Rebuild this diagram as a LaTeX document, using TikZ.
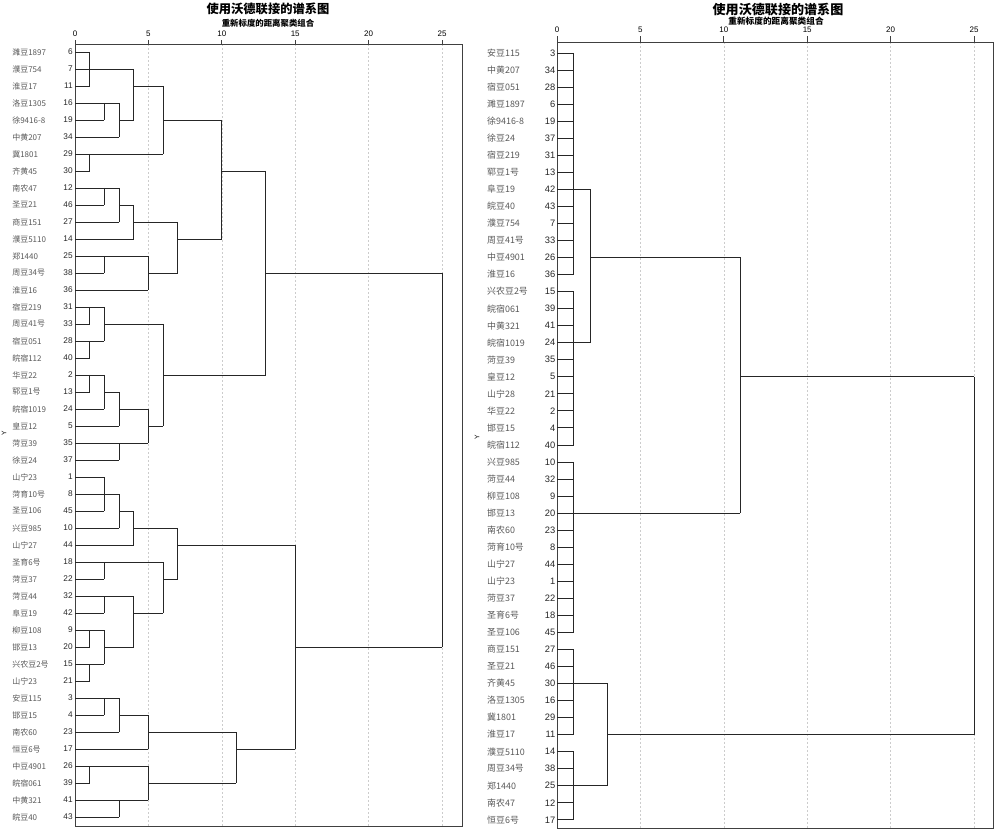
\documentclass[tikz,border=0pt]{standalone}
\usepackage{fontspec}
\setmainfont{Liberation Sans}
\newfontfamily\cjk{Noto Sans CJK SC}
\tikzset{
  treeline/.style={draw=black!85, line width=0.6pt},
  gridline/.style={draw=gray!40, dash pattern=on 1.5pt off 1.5pt, line width=0.4pt},
  framebox/.style={draw=black!75, line width=0.6pt},
  namelbl/.style={anchor=west, inner sep=0pt, text=black!65},
  numlbl/.style={anchor=east, inner sep=0pt, text=black!85},
  ticklbl/.style={anchor=south, inner sep=0pt, font=\fontsize{6}{6}\selectfont},
  titlelbl/.style={inner sep=0pt, font=\cjk\bfseries\fontsize{9.2}{10}\selectfont},
  sublbl/.style={inner sep=0pt, font=\cjk\bfseries\fontsize{6.3}{7}\selectfont},
}
\begin{document}
\begin{tikzpicture}[x=0.75pt,y=-0.75pt]
\useasboundingbox (0,0) rectangle (1000,834);

% Text Node
\node[titlelbl] (titleL) at (268,9) {使用沃德联接的谱系图};
\node[sublbl] (subL) at (268,23) {重新标度的距离聚类组合};
\node[inner sep=0pt, rotate=90, font=\fontsize{5}{5}\selectfont] (yL) at (4,433) {Y};

% left dendrogram
\begin{scope}[shift={(75,35)}, x=11.01pt, y=-12.75pt]
\foreach \t in {5,10,...,25}
  \draw[gridline] (\t,0.53) -- (\t,46.53);
\draw[framebox] (0,0.53) rectangle (26.36,46.53);
\foreach \t in {0,5,...,25} {
  \draw[framebox] (\t,0.53) -- (\t,0.29);
  \node[ticklbl] (ltick\t) at (\t,0.1) {\t};
}
\foreach \nm/\id/\len [count=\r] in {濉豆1897/6/1, 濮豆754/7/4, 淮豆17/11/1, 洛豆1305/16/3,
  徐9416-8/19/2, 中黄207/34/3, 冀1801/29/6, 齐黄45/30/1, 南农47/12/3, 圣豆21/46/2,
  商豆151/27/3, 濮豆5110/14/4, 郑1440/25/5, 周豆34号/38/2, 淮豆16/36/5, 宿豆219/31/2,
  周豆41号/33/1, 宿豆051/28/2, 皖宿112/40/1, 华豆22/2/2, 郓豆1号/13/1, 皖宿1019/24/2,
  皇豆12/5/3, 菏豆39/35/5, 徐豆24/37/3, 山宁23/1/2, 菏育10号/8/3, 圣豆106/45/2,
  兴豆985/10/3, 山宁27/44/4, 圣育6号/18/6, 菏豆37/22/2, 菏豆44/32/4, 阜豆19/42/2,
  柳豆108/9/2, 邯豆13/20/1, 兴农豆2号/15/2, 山宁23/21/1, 安豆115/3/3, 邯豆15/4/2,
  南农60/23/3, 恒豆6号/17/5, 中豆4901/26/5, 皖宿061/39/1, 中黄321/41/5, 皖豆40/43/3} {
  \node[namelbl, font=\cjk\fontsize{6}{6}\selectfont] (lname\r) at (-4.29,\r) {\nm};
  \node[numlbl, font=\fontsize{6.2}{6}\selectfont] (lnum\r) at (-0.14,\r) {\id};
  \draw[treeline] (0,\r) -- (\len,\r);
}
% joins: horizontal parts
\foreach \r/\a/\b in {5/3/4, 3/4/6, 5/6/10, 10/3/4, 11/4/7, 14/5/7, 12/7/10, 8/10/13,
  17/2/6, 21/2/3, 22/3/5, 23/5/6, 20/6/13, 14/13/25, 28/3/4, 29/4/7, 32/6/7, 34/4/6,
  36/2/4, 30/7/15, 40/3/5, 41/5/11, 44/5/11, 42/11/15, 36/15/25}
  \draw[treeline] (\a,\r) -- (\b,\r);
% joins: vertical parts
\foreach \d/\a/\b in {1/1/3, 2/4/5, 3/4/6, 4/2/5, 1/7/8, 6/3/7, 2/9/10, 3/9/11, 4/10/12,
  2/13/14, 5/13/15, 7/11/14, 10/5/12, 13/8/20, 1/16/17, 1/18/19, 2/16/18, 6/17/23,
  1/20/21, 2/20/22, 3/21/23, 3/24/25, 5/22/24, 25/14/36, 2/26/28, 3/27/29, 4/28/30,
  2/31/32, 2/33/34, 1/35/36, 1/37/38, 2/35/37, 4/33/36, 6/31/34, 7/29/32, 2/39/40,
  3/39/41, 5/40/42, 1/43/44, 3/45/46, 5/43/45, 11/41/44, 15/30/42}
  \draw[treeline] (\d,\a) -- (\d,\b);
\end{scope}

% Text Node
\node[titlelbl, font=\cjk\bfseries\fontsize{9.8}{10}\selectfont] (titleR) at (778,10) {使用沃德联接的谱系图};
\node[sublbl, font=\cjk\bfseries\fontsize{6.5}{7}\selectfont] (subR) at (776,21.5) {重新标度的距离聚类组合};
\node[inner sep=0pt, rotate=90, font=\fontsize{5}{5}\selectfont] (yR) at (477,437) {Y};

% right dendrogram
\begin{scope}[shift={(557,35.96)}, x=12.51pt, y=-12.78pt]
\foreach \t in {5,10,...,25}
  \draw[gridline] (\t,0.354) -- (\t,46.48);
\draw[framebox] (0,0.354) rectangle (26.14,46.48);
\foreach \t in {0,5,...,25} {
  \draw[framebox] (\t,0.354) -- (\t,0.03);
  \node[ticklbl] (rtick\t) at (\t,-0.2) {\t};
}
\foreach \nm/\id/\len [count=\r] in {安豆115/3/1, 中黄207/34/1, 宿豆051/28/1, 濉豆1897/6/1,
  徐9416-8/19/1, 徐豆24/37/1, 宿豆219/31/1, 郓豆1号/13/1, 阜豆19/42/2, 皖豆40/43/1,
  濮豆754/7/1, 周豆41号/33/1, 中豆4901/26/1, 淮豆16/36/1, 兴农豆2号/15/1, 皖宿061/39/1,
  中黄321/41/1, 皖宿1019/24/2, 菏豆39/35/1, 皇豆12/5/1, 山宁28/21/1, 华豆22/2/1,
  邯豆15/4/1, 皖宿112/40/1, 兴豆985/10/1, 菏豆44/32/1, 柳豆108/9/1, 邯豆13/20/11,
  南农60/23/1, 菏育10号/8/1, 山宁27/44/1, 山宁23/1/1, 菏豆37/22/1, 圣育6号/18/1,
  圣豆106/45/1, 商豆151/27/1, 圣豆21/46/1, 齐黄45/30/3, 洛豆1305/16/1, 冀1801/29/1,
  淮豆17/11/1, 濮豆5110/14/1, 周豆34号/38/1, 郑1440/25/3, 南农47/12/1, 恒豆6号/17/1} {
  \node[namelbl, font=\cjk\fontsize{6.7}{7}\selectfont] (rname\r) at (-4.2,\r) {\nm};
  \node[numlbl, font=\fontsize{7}{7}\selectfont] (rnum\r) at (-0.09,\r) {\id};
  \draw[treeline] (0,\r) -- (\len,\r);
}
% joins
\foreach \r/\a/\b in {9/1/2, 18/1/2, 13/2/11, 20/11/25, 38/1/3, 44/1/3, 41/3/25}
  \draw[treeline] (\a,\r) -- (\b,\r);
\foreach \d/\a/\b in {1/1/14, 1/15/24, 1/25/35, 1/36/41, 1/42/46, 2/9/18, 11/13/28,
  3/38/44, 25/20/41}
  \draw[treeline] (\d,\a) -- (\d,\b);
\end{scope}
\end{tikzpicture}
\end{document}
